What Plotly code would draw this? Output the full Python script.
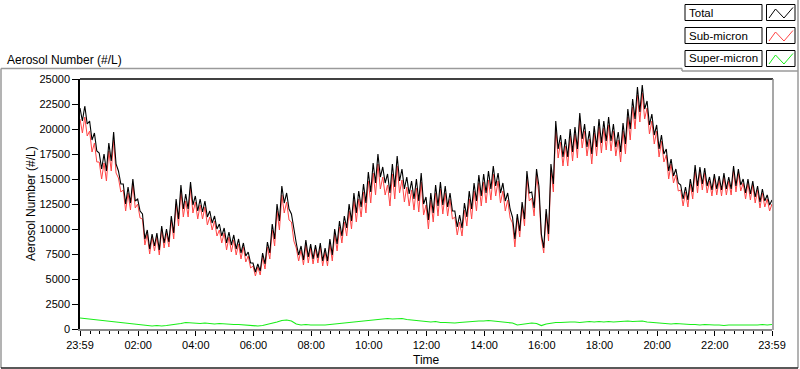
import pandas as pd
import plotly.graph_objects as go

# ---------------- data (10-minute steps from 23:59) ----------------
start_time = "2000-01-01 23:59"
step_minutes = 10

total_hi = [22100, 22300, 20800, 19600, 17600, 17500, 18600, 19700, 15800, 14500, 14200, 15000, 13000, 11500, 9900, 9500,
            9600, 10300, 10000, 11300, 13000, 14400, 13500, 14700, 13300, 13000, 12800, 11800, 11300, 10500, 10100, 9700,
            9400, 9000, 8600, 7700, 6600, 6500, 7600, 8700, 10500, 12500, 14300, 13600, 11500, 8600, 8300, 8900,
            8500, 8400, 8600, 8100, 9000, 10000, 10800, 11300, 12500, 13600, 13800, 14500, 15700, 16600, 17500, 16200,
            15500, 16500, 17300, 16000, 15200, 14800, 15000, 15600, 13200, 13600, 14400, 14700, 14300, 13600, 11800, 11400,
            12600, 13800, 14600, 15400, 15500, 15800, 16300, 15600, 14600, 13600, 11200, 11500, 12700, 15800, 13700, 16000,
            9500, 12000, 16500, 20800, 19400, 19000, 20000, 20200, 21600, 20500, 19800, 20300, 21000, 20800, 21200, 20500,
            19700, 20600, 22000, 23000, 24200, 24400, 22800, 21500, 20400, 19400, 18000, 17000, 16000, 14400, 14200, 15000,
            16400, 16200, 16100, 15200, 15500, 15300, 15600, 15200, 16300, 16000, 15000, 15000, 14800, 14300, 14000, 13400,
            12900]
total_lo = [20800, 20500, 18900, 17800, 16000, 15800, 16800, 16500, 14500, 12500, 12600, 12800, 11800, 9000, 8000, 8300,
            7900, 8600, 8700, 9600, 11000, 12000, 12000, 12400, 11800, 11700, 11200, 10600, 10000, 9300, 8600, 8400,
            8000, 7600, 7300, 6600, 5700, 5800, 6500, 7600, 9000, 10800, 12600, 12000, 9800, 7400, 6900, 7200,
            7000, 7100, 6800, 6800, 7400, 8500, 9300, 10100, 10800, 11600, 12200, 12600, 13700, 14600, 15200, 14600,
            13600, 14200, 14800, 14000, 13500, 13000, 12800, 12500, 10900, 11600, 12300, 12400, 12200, 11800, 10200, 10100,
            11200, 12000, 12800, 13300, 13600, 14000, 14300, 13600, 12800, 12000, 9000, 9800, 11000, 13600, 12100, 14300,
            8100, 9500, 14500, 18000, 17200, 17200, 17700, 18000, 19000, 18200, 17500, 18200, 18600, 18800, 18800, 18200,
            17700, 18500, 20000, 21000, 21700, 22000, 20400, 19400, 18000, 17500, 15800, 15300, 14600, 13000, 12900, 13700,
            14300, 14500, 14300, 13900, 14000, 13900, 14000, 14000, 14300, 14400, 13600, 13500, 13200, 12700, 12800, 12400,
            12300]
sub_hi = [21000, 21200, 19800, 18600, 16700, 16600, 17800, 18900, 15100, 13900, 13600, 14500, 12500, 11000, 9500, 9200,
          9200, 10000, 9600, 10900, 12500, 13800, 12800, 14100, 12700, 12400, 12200, 11200, 10800, 9900, 9600, 9200,
          8900, 8500, 8200, 7300, 6300, 6200, 7200, 8200, 9900, 11800, 13400, 12700, 10700, 8100, 7900, 8400,
          8100, 8000, 8200, 7700, 8500, 9500, 10200, 10700, 11800, 12900, 13000, 13700, 14800, 15600, 16500, 15200,
          14400, 15500, 16300, 14900, 14200, 13900, 14100, 14700, 12400, 12900, 13600, 14000, 13600, 13000, 11200, 10700,
          11900, 13000, 13800, 14600, 14700, 14900, 15500, 14800, 13800, 12900, 10600, 11100, 12200, 15200, 13100, 15400,
          9100, 11500, 15900, 20100, 18700, 18300, 19300, 19500, 20900, 19800, 19000, 19600, 20200, 20100, 20400, 19800,
          18900, 19800, 21200, 22200, 23400, 23600, 22100, 20800, 19800, 18800, 17400, 16500, 15400, 13900, 13700, 14500,
          15900, 15800, 15600, 14800, 15100, 14900, 15200, 14800, 15900, 15600, 14600, 14600, 14400, 13900, 13600, 13000,
          12500]
sub_lo = [19600, 19300, 17700, 16700, 15000, 14800, 15800, 15600, 13700, 11800, 11900, 12100, 11100, 8400, 7500, 7800,
          7400, 8100, 8200, 9000, 10300, 11200, 11200, 11600, 11000, 11000, 10400, 9900, 9300, 8600, 7900, 7700,
          7400, 7000, 6700, 6100, 5300, 5400, 6000, 7000, 8300, 9900, 11600, 10900, 8800, 6800, 6400, 6600,
          6500, 6600, 6300, 6300, 6800, 7800, 8600, 9300, 10000, 10700, 11200, 11600, 12600, 13400, 14000, 13400,
          12300, 13000, 13600, 12700, 12300, 11900, 11700, 11400, 10000, 10700, 11300, 11500, 11300, 11000, 9400, 9300,
          10300, 11000, 11800, 12300, 12600, 12900, 13300, 12600, 11800, 11100, 8200, 9200, 10300, 12800, 11300, 13500,
          7600, 8800, 13700, 17100, 16300, 16300, 16800, 17100, 18100, 17300, 16500, 17300, 17600, 17900, 17800, 17300,
          16700, 17500, 18900, 20000, 20700, 21000, 19500, 18500, 17200, 16700, 15000, 14600, 13800, 12300, 12200, 13000,
          13600, 13900, 13600, 13300, 13400, 13300, 13400, 13400, 13700, 13800, 13000, 12900, 12600, 12100, 12200, 11800,
          11700]
super_vals = [1100, 1050, 1000, 950, 900, 850, 800,
              750, 650, 600, 550, 500, 500,
              450, 350, 300, 350, 300, 350,
              400, 500, 550, 650, 600, 600,
              550, 600, 550, 500, 550, 500,
              500, 450, 450, 400, 350, 300,
              300, 350, 450, 550, 700, 850,
              900, 800, 500, 400, 450, 400,
              400, 350, 400, 450, 500, 550,
              600, 650, 700, 750, 800, 900,
              950, 1000, 1000, 1050, 1000, 1000,
              1050, 950, 900, 900, 850, 750,
              700, 750, 650, 650, 600, 600,
              650, 700, 750, 750, 800, 800,
              850, 800, 750, 750, 700, 600,
              400, 450, 550, 600, 550, 350,
              500, 600, 650, 650, 700, 700,
              700, 650, 700, 750, 700, 750,
              700, 750, 700, 750, 750, 800,
              750, 800, 800, 700, 650, 600,
              600, 550, 500, 550, 500, 450,
              450, 450, 400, 450, 400, 400,
              400, 350, 400, 400, 350, 400,
              400, 350, 400, 450, 400, 450]

tick_times = ["2000-01-01 23:59", "2000-01-02 02:00", "2000-01-02 04:00", "2000-01-02 06:00", "2000-01-02 08:00",
              "2000-01-02 10:00", "2000-01-02 12:00", "2000-01-02 14:00", "2000-01-02 16:00", "2000-01-02 18:00",
              "2000-01-02 20:00", "2000-01-02 22:00", "2000-01-02 23:59"]
tick_labels = ["23:59", "02:00", "04:00", "06:00", "08:00", "10:00", "12:00", "14:00", "16:00", "18:00",
               "20:00", "22:00", "23:59"]
y_ticks = [0, 2500, 5000, 7500, 10000, 12500, 15000, 17500, 20000, 22500, 25000]

series_names = ["Total", "Sub-micron", "Super-micron"]
series_colors = ["#000000", "#ff4444", "#19ee19"]

# ---------------- build ----------------
base = pd.Timestamp(start_time)
times = [base + pd.Timedelta(minutes=step_minutes * i) for i in range(len(total_hi))]
half = pd.Timedelta(minutes=step_minutes / 2)


def interleave(hi, lo):
    xs, ys = [], []
    for i, t in enumerate(times):
        xs.append(t)
        ys.append(hi[i])
        if i < len(times) - 1:
            xs.append(t + half)
            ys.append(lo[i])
    return xs, ys


FONT = "Liberation Sans, Arial, sans-serif"
fig = go.Figure()
xs, ys = interleave(sub_hi, sub_lo)
fig.add_trace(go.Scatter(x=xs, y=ys, mode="lines", line=dict(color=series_colors[1], width=1), name=series_names[1]))
xs, ys = interleave(total_hi, total_lo)
fig.add_trace(go.Scatter(x=xs, y=ys, mode="lines", line=dict(color=series_colors[0], width=1.1), name=series_names[0]))
fig.add_trace(go.Scatter(x=times, y=super_vals, mode="lines", line=dict(color=series_colors[2], width=1.2),
                         name=series_names[2]))

L, R, T, B = 80, 772, 79, 329


def px(x):
    return (x - L) / (R - L)


def py(y):
    return (B - y) / (B - T)


shapes = []
# plot frame: top black, right gray
shapes.append(dict(type="line", xref="paper", yref="paper", x0=px(L), x1=px(R + 1), y0=1, y1=1,
                   line=dict(color="black", width=1.5)))
shapes.append(dict(type="line", xref="paper", yref="paper", x0=px(R + 1), x1=px(R + 1), y0=py(B + 1), y1=1,
                   line=dict(color="#8a8a8a", width=1.5)))
# outer border
border = "#9a9a9a"
shapes.append(dict(type="line", xref="paper", yref="paper", x0=px(1), x1=px(682), y0=py(68.5), y1=py(68.5),
                   line=dict(color=border, width=1.5)))
shapes.append(dict(type="line", xref="paper", yref="paper", x0=px(682), x1=px(682), y0=py(68.5), y1=py(71),
                   line=dict(color=border, width=1.5)))
shapes.append(dict(type="line", xref="paper", yref="paper", x0=px(682), x1=px(798), y0=py(71), y1=py(71),
                   line=dict(color=border, width=1.5)))
shapes.append(dict(type="line", xref="paper", yref="paper", x0=px(1), x1=px(1), y0=py(68.5), y1=py(368),
                   line=dict(color=border, width=1.5)))
shapes.append(dict(type="line", xref="paper", yref="paper", x0=px(798), x1=px(798), y0=py(0), y1=py(368),
                   line=dict(color=border, width=1.5)))
shapes.append(dict(type="line", xref="paper", yref="paper", x0=px(1), x1=px(798), y0=py(368), y1=py(368),
                   line=dict(color="#222222", width=1.5)))

annotations = []
legend_rows = [(4.5, 20.5), (27.5, 43.5), (50.5, 66.5)]
for (y0, y1), name, col in zip(legend_rows, series_names, series_colors):
    shapes.append(dict(type="rect", xref="paper", yref="paper", x0=px(685), x1=px(762), y0=py(y1), y1=py(y0),
                       line=dict(color="black", width=1), fillcolor="white"))
    shapes.append(dict(type="rect", xref="paper", yref="paper", x0=px(766.5), x1=px(795), y0=py(y1), y1=py(y0),
                       line=dict(color="black", width=1), fillcolor="white"))
    path = "M {:.4f} {:.4f} L {:.4f} {:.4f} L {:.4f} {:.4f} L {:.4f} {:.4f}".format(
        px(769), py(y1 - 2.5), px(775.5), py(y0 + 4.5), px(784), py(y1 - 2.5), px(793), py(y0 + 3))
    shapes.append(dict(type="path", xref="paper", yref="paper", path=path, line=dict(color=col, width=1)))
    annotations.append(dict(xref="paper", yref="paper", x=px(687), y=py((y0 + y1) / 2), text=name,
                            showarrow=False, xanchor="left", yanchor="middle",
                            font=dict(family=FONT, size=11.5, color="black")))

annotations.append(dict(xref="paper", yref="paper", x=px(5), y=py(60), text="Aerosol Number (#/L)",
                        showarrow=False, xanchor="left", yanchor="middle",
                        font=dict(family=FONT, size=12, color="black")))
# axis titles
annotations.append(dict(xref="paper", yref="paper", x=px(426), y=py(360), text="Time",
                        showarrow=False, xanchor="center", yanchor="middle",
                        font=dict(family=FONT, size=12, color="black")))
annotations.append(dict(xref="paper", yref="paper", x=px(31), y=py(203), text="Aerosol Number (#/L)",
                        textangle=-90, showarrow=False, xanchor="center", yanchor="middle",
                        font=dict(family=FONT, size=12, color="black")))

fig.update_layout(
    width=800, height=369,
    margin=dict(l=L, r=800 - R, t=T, b=369 - B, autoexpand=False),
    paper_bgcolor="white", plot_bgcolor="white",
    showlegend=False,
    shapes=shapes, annotations=annotations,
    font=dict(family=FONT, size=11, color="black"),
)
fig.update_xaxes(
    automargin=False,
    range=[pd.Timestamp(tick_times[0]), pd.Timestamp(tick_times[-1])],
    tickmode="array", tickvals=[pd.Timestamp(t) for t in tick_times], ticktext=tick_labels,
    ticks="outside", ticklen=5, tickwidth=1, tickcolor="black", ticklabelstandoff=0,
    showline=True, linecolor="#8a8a8a", linewidth=1.5, showgrid=False, zeroline=False,
    tickfont=dict(family=FONT, size=11, color="black"),
    minor=dict(ticks="outside", ticklen=3, tickcolor="black", dtick=20 * 60 * 1000,
               tick0="2000-01-02 00:00:00", showgrid=False),
)
fig.update_yaxes(
    automargin=False,
    range=[0, 25000], tickmode="array", tickvals=y_ticks, tickformat="d",
    ticks="outside", ticklen=6, tickwidth=1, tickcolor="black",
    showline=True, linecolor="black", linewidth=1.5, showgrid=False, zeroline=False,
    tickfont=dict(family=FONT, size=11, color="black"),
)

fig.write_html("out.html", config={"displayModeBar": False},
               post_script="document.body.style.margin='0';document.body.style.overflow='hidden';")
